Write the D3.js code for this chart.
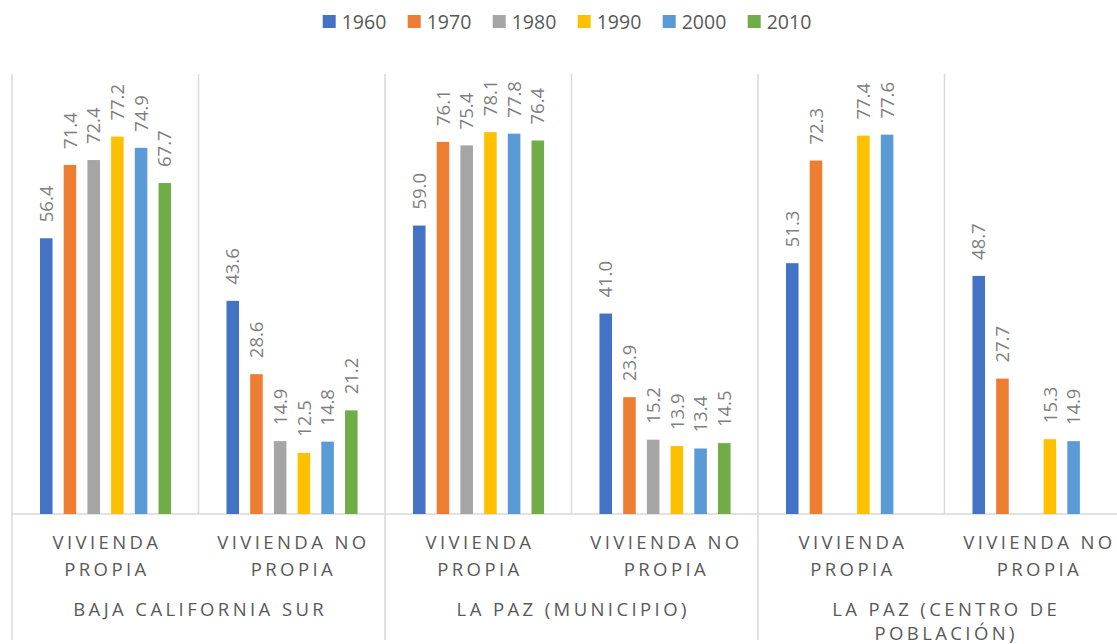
<!DOCTYPE html>
<html><head><meta charset="utf-8">
<script src="https://cdn.jsdelivr.net/npm/d3@7"></script>
<style>body{margin:0;background:#fff;} svg{display:block;font-family:"Open Sans",sans-serif;}</style>
</head><body>
<svg id="c" width="1117" height="644"></svg>
<script>
const series = ["1960","1970","1980","1990","2000","2010"];
const colors = ["#4472C4","#ED7D31","#A5A5A5","#FFC000","#5B9BD5","#70AD47"];
const groups = ["BAJA CALIFORNIA SUR","LA PAZ (MUNICIPIO)","LA PAZ (CENTRO DE POBLACIÓN)"];
const groupLines = [["BAJA CALIFORNIA SUR"],["LA PAZ (MUNICIPIO)"],["LA PAZ (CENTRO DE","POBLACIÓN)"]];
const subcats = ["VIVIENDA PROPIA","VIVIENDA NO PROPIA"];
const subLines = [["VIVIENDA","PROPIA"],["VIVIENDA NO","PROPIA"]];
const bcsPropia   = [56.4,71.4,72.4,77.2,74.9,67.7];
const bcsNoPropia = [43.6,28.6,14.9,12.5,14.8,21.2];
const munPropia   = [59.0,76.1,75.4,78.1,77.8,76.4];
const munNoPropia = [41.0,23.9,15.2,13.9,13.4,14.5];
const cenPropia   = [51.3,72.3,null,77.4,77.6,null];
const cenNoPropia = [48.7,27.7,null,15.3,14.9,null];
const yDomain = [0,90];

(function(){
const table = [bcsPropia,bcsNoPropia,munPropia,munNoPropia,cenPropia,cenNoPropia];
const cats = [];
groups.forEach((g,gi)=>subcats.forEach((s,si)=>cats.push({key:g+"|"+s,g:gi,s:si,vals:table[gi*2+si]})));

const svg = d3.select("#c");
const pLeft=12, pRight=1131, pTop=74, base=514;
const x0 = d3.scaleBand().domain(cats.map(d=>d.key)).range([pLeft,pRight]).padding(0);
const cw = x0.bandwidth();
const x1 = d3.scaleBand().domain(series).range([cw*0.15, cw*0.853]).paddingInner(0.47).paddingOuter(0);
const y = d3.scaleLinear().domain(yDomain).range([base,pTop]);
const grid = "#d9d9d9";

cats.forEach((c,i)=>{
  const xb = x0(c.key);
  svg.append("line").attr("x1",xb).attr("x2",xb).attr("y1",pTop).attr("y2", c.s===0 ? 640 : base)
    .attr("stroke",grid).attr("stroke-width",1.5);
});
svg.append("line").attr("x1",pRight).attr("x2",pRight).attr("y1",pTop).attr("y2",640).attr("stroke",grid).attr("stroke-width",1.5);
svg.append("line").attr("x1",pLeft).attr("x2",pRight).attr("y1",base).attr("y2",base).attr("stroke",grid).attr("stroke-width",1.5);

const cg = svg.selectAll("g.cat").data(cats).join("g").attr("class","cat").attr("transform",d=>`translate(${x0(d.key)},0)`);
cg.each(function(c){
  const g = d3.select(this);
  const data = series.map((s,i)=>({s,i,v:c.vals[i]})).filter(d=>d.v!=null);
  g.selectAll("rect").data(data).join("rect")
    .attr("x",d=>x1(d.s)).attr("width",x1.bandwidth())
    .attr("y",d=>y(d.v)).attr("height",d=>base-y(d.v))
    .attr("fill",d=>colors[d.i]);
  g.selectAll("text").data(data).join("text")
    .attr("transform",d=>`translate(${x1(d.s)+x1.bandwidth()/2},${y(d.v)-16}) rotate(-90)`)
    .attr("dy","0.36em").attr("text-anchor","start")
    .attr("font-size",18.5).attr("fill","#7f7f7f")
    .text(d=>d.v.toFixed(1));
});

function multiline(cx, y0, lines, lh){
  const t = svg.append("text").attr("text-anchor","middle").attr("font-size",18.5)
    .attr("letter-spacing",3.4).attr("fill","#595959");
  lines.forEach((s,li)=>{
    t.append("tspan").attr("x",cx+1.7).attr("y",y0+li*lh).attr("dy","0.36em").text(s);
  });
}
cats.forEach(c=>multiline(x0(c.key)+cw/2, 542, subLines[c.s], 27));
groups.forEach((g,gi)=>multiline(x0(cats[gi*2].key)+cw, 609, groupLines[gi], 24));

const lg = svg.append("g");
series.forEach((s,i)=>{
  const lx = 322.7 + i*85;
  lg.append("rect").attr("x",lx).attr("y",15).attr("width",13).attr("height",13).attr("fill",colors[i]);
  lg.append("text").attr("x",lx+19).attr("y",22).attr("dy","0.36em").attr("font-size",19.5).attr("fill","#595959").text(s);
});
})();
</script>
</body></html>
